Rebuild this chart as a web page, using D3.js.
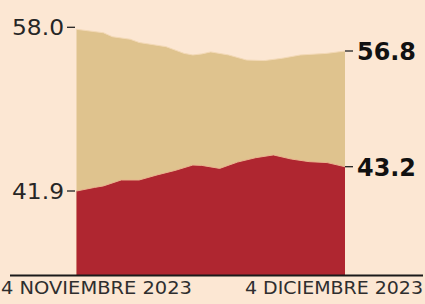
<!DOCTYPE html>
<html>
<head>
<meta charset="utf-8">
<script src="https://cdn.jsdelivr.net/npm/d3@7"></script>
<style>
  html, body { margin: 0; padding: 0; background: #fce7d3; }
  svg { display: block; }
</style>
</head>
<body>
<svg id="chart" width="425" height="304"></svg>
<script>
// ---- Data ----
const startDate = "2023-11-04";
const dayOffsets = {
  top: [0, 3, 4, 6, 7, 10, 12, 13, 14, 15, 17, 19, 21, 23, 25, 28, 30],
  bottom: [0, 2, 3, 5, 7, 9, 11, 13, 14, 16, 18, 20, 22, 24, 26, 28, 30]
};
const upperValues = [58.0, 57.81, 57.59, 57.45, 57.27, 57.04, 56.67, 56.58, 56.64, 56.75, 56.58, 56.30, 56.27, 56.40, 56.58, 56.67, 56.8];
const lowerValues = [41.9, 42.09, 42.17, 42.49, 42.49, 42.76, 43.00, 43.29, 43.27, 43.11, 43.45, 43.68, 43.83, 43.61, 43.47, 43.42, 43.2];
const tickLabels = ["4 NOVIEMBRE 2023", "4 DICIEMBRE 2023"];

// ---- Build series ----
const parse = d3.timeParse("%Y-%m-%d");
const d0 = parse(startDate);
const upper = upperValues.map((v, i) => ({ date: d3.timeDay.offset(d0, dayOffsets.top[i]), value: v }));
const lower = lowerValues.map((v, i) => ({ date: d3.timeDay.offset(d0, dayOffsets.bottom[i]), value: v }));

const svg = d3.select("#chart");

// ---- Scales (broken axis: each band keeps its own offset) ----
const x = d3.scaleTime()
  .domain([d0, d3.timeDay.offset(d0, 30)])
  .range([76.5, 345]);
const baseY = 275;
const yTop = d3.scaleLinear().domain([56.8, 58.0]).range([51, 29.3]);
const yBot = d3.scaleLinear().domain([41.9, 43.2]).range([191, 166.7]);

// ---- Areas ----
const areaTop = d3.area().x(d => x(d.date)).y0(baseY).y1(d => yTop(d.value));
const areaBot = d3.area().x(d => x(d.date)).y0(baseY).y1(d => yBot(d.value));

svg.append("path").datum(upper).attr("d", areaTop).attr("fill", "#dfc38e");
svg.append("path").datum(upper)
  .attr("d", d3.line().x(d => x(d.date)).y(d => yTop(d.value)))
  .attr("fill", "none").attr("stroke", "#f3d9b6").attr("stroke-width", 1);
svg.append("path").datum(lower).attr("d", areaBot).attr("fill", "#af2630");
svg.append("path").datum(lower)
  .attr("d", d3.line().x(d => x(d.date)).y(d => yBot(d.value)))
  .attr("fill", "none").attr("stroke", "#e9b48f").attr("stroke-width", 1);

// ---- Baseline axis ----
svg.append("line")
  .attr("x1", 10).attr("x2", 423)
  .attr("y1", baseY + 0.5).attr("y2", baseY + 0.5)
  .attr("stroke", "#1a1a1a").attr("stroke-width", 2.2);

// ---- Value labels ----
const first = (arr) => arr[0];
const last = (arr) => arr[arr.length - 1];
const leftLabels = [
  { v: first(upper).value, y: yTop(first(upper).value) - 2 },
  { v: first(lower).value, y: yBot(first(lower).value) }
];
const rightLabels = [
  { v: last(upper).value, y: yTop(last(upper).value) },
  { v: last(lower).value, y: yBot(last(lower).value) }
];

leftLabels.forEach(l => {
  svg.append("line").attr("x1", 67).attr("x2", 75).attr("y1", l.y).attr("y2", l.y)
    .attr("stroke", "#222").attr("stroke-width", 1.3);
  svg.append("text")
    .attr("x", 64).attr("y", l.y + 8)
    .attr("text-anchor", "end")
    .attr("font-family", "DejaVu Sans, sans-serif")
    .attr("font-size", 22)
    .attr("fill", "#262626")
    .attr("textLength", 52).attr("lengthAdjust", "spacingAndGlyphs")
    .text(d3.format(".1f")(l.v));
});

rightLabels.forEach(l => {
  svg.append("line").attr("x1", 345).attr("x2", 353).attr("y1", l.y).attr("y2", l.y)
    .attr("stroke", "#222").attr("stroke-width", 1.3);
  svg.append("text")
    .attr("x", 357).attr("y", l.y + 9)
    .attr("font-family", "DejaVu Sans, sans-serif")
    .attr("font-weight", "bold")
    .attr("font-size", 24)
    .attr("fill", "#111")
    .attr("textLength", 59).attr("lengthAdjust", "spacingAndGlyphs")
    .text(d3.format(".1f")(l.v));
});

// ---- Date labels ----
const dateLabelPos = [
  { x: 1, len: 191 },
  { x: 245, len: 178 }
];
tickLabels.forEach((t, i) => {
  svg.append("text")
    .attr("x", dateLabelPos[i].x).attr("y", 294)
    .attr("font-family", "DejaVu Sans, sans-serif")
    .attr("font-size", 17.5)
    .attr("fill", "#2e2e2e")
    .attr("textLength", dateLabelPos[i].len).attr("lengthAdjust", "spacingAndGlyphs")
    .text(t);
});
</script>
</body>
</html>
